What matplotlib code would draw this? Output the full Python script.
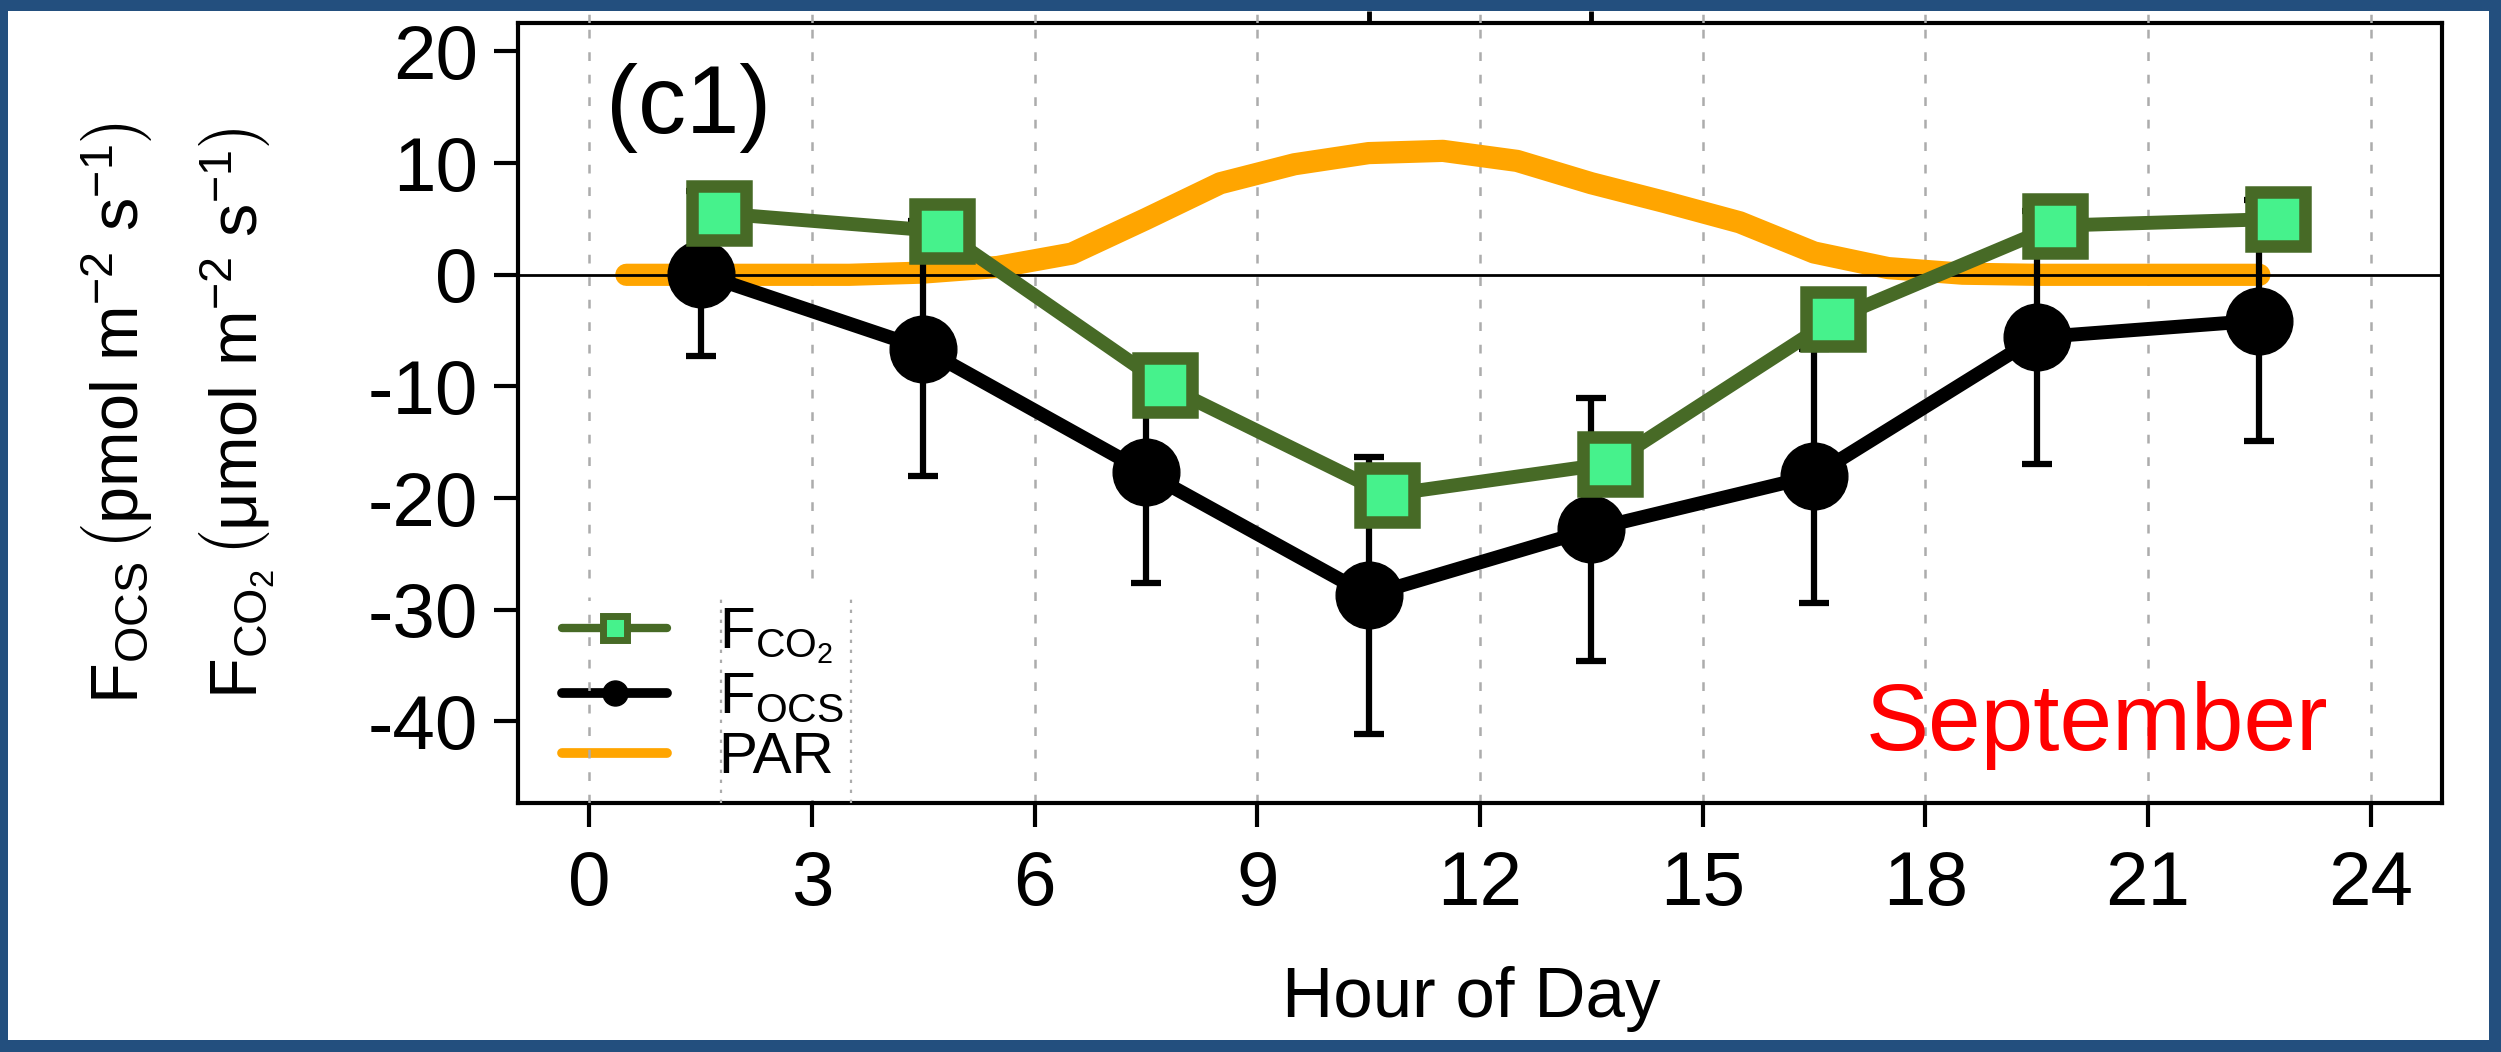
import matplotlib
matplotlib.use('Agg')
import matplotlib.pyplot as plt
from matplotlib.lines import Line2D
from matplotlib.patches import Rectangle

plt.rcParams['font.family'] = ['Liberation Sans', 'DejaVu Sans']
plt.rcParams['mathtext.fontset'] = 'custom'
plt.rcParams['mathtext.rm'] = 'Liberation Sans'
plt.rcParams['mathtext.it'] = 'Liberation Sans:italic'
plt.rcParams['mathtext.bf'] = 'Liberation Sans:bold'
plt.rcParams['axes.unicode_minus'] = False

# data
hour = [1.5, 4.5, 7.5, 10.5, 13.5, 16.5, 19.5, 22.5]
co2_hour = [1.75, 4.75, 7.75, 10.75, 13.75, 16.75, 19.75, 22.75]
f_co2 = [5.5, 3.9, -9.9, -19.7, -16.9, -4.0, 4.4, 5.0]
f_ocs = [0.1, -6.6, -17.7, -28.7, -22.8, -18.0, -5.6, -4.1]
ocs_err = [7.4, 11.4, 9.9, 12.4, 11.8, 11.4, 11.3, 10.8]

par_hour = [0.5, 1.5, 2.5, 3.5, 4.5, 5.5, 6.5, 7.5, 8.5, 9.5, 10.5, 11.5,
            12.5, 13.5, 14.5, 15.5, 16.5, 17.5, 18.5, 19.5, 20.5, 21.5, 22.5]
par = [0, 0, 0, 0, 0.2, 0.7, 1.9, 5.0, 8.2, 9.9, 10.9, 11.1,
       10.2, 8.2, 6.5, 4.7, 2.0, 0.6, 0.1, 0, 0, 0, 0]

xticks = [0, 3, 6, 9, 12, 15, 18, 21, 24]
yticks = [-40, -30, -20, -10, 0, 10, 20]
upper_bar_x = [10.5, 13.5]      # bits of the panel above that show
legend_rule_x = [1.78, 3.53]

W, H = 2501, 1052
fig = plt.figure(figsize=(W/100, H/100), dpi=100, facecolor='#234f7e')
fig.add_artist(Rectangle((8/W, 12/H), (W-20)/W, (H-23)/H, transform=fig.transFigure,
                         facecolor='white', edgecolor='none', zorder=0))

gridcol = '#acacac'
gridls = (0, (3.5, 5.5))

ax = fig.add_axes([518/W, 1-803/H, (2442-518)/W, (803-23)/H])
ax.set_xlim(-0.96, 24.96)
ax.set_ylim(-47.3, 22.55)
for x in xticks:
    ax.axvline(x, color=gridcol, lw=1.8, ls=gridls, zorder=0)
ax.axhline(0, color='black', lw=2, zorder=2.5)

ax.plot(par_hour, par, color='#ffa500', lw=16, solid_capstyle='round',
        solid_joinstyle='round', zorder=2)
ax.errorbar(hour, f_ocs, yerr=ocs_err, fmt='none', ecolor='black', elinewidth=4.5,
            capsize=10.5, capthick=4.5, zorder=3)
ax.plot(hour, f_ocs, color='black', lw=10, marker='o', ms=48, zorder=3.5)
ax.plot(co2_hour, f_co2, color='#476a26', lw=10, marker='s', ms=39, mfc='#46f28c',
        mec='#476a26', mew=9, zorder=4)

ax.set_xticks(xticks)
ax.set_yticks(yticks)
ax.tick_params(direction='out', length=17, width=3, labelsize=55)
ax.tick_params(axis='x', pad=17)
ax.tick_params(axis='y', pad=12)
for s in ax.spines.values():
    s.set_linewidth(3)

ax.text(0.0457, 0.859, '(c1)', transform=ax.transAxes, fontsize=69,
        ha='left', va='baseline')
ax.text(0.9407, 0.068, 'September', transform=ax.transAxes, fontsize=68,
        color='#ff0000', ha='right', va='baseline')

h_co2 = Line2D([], [], color='#476a26', lw=6, marker='s', ms=17, mfc='#46f28c',
               mec='#476a26', mew=5, solid_capstyle='round')
h_ocs = Line2D([], [], color='black', lw=7, marker='o', ms=18, solid_capstyle='round')
h_par = Line2D([], [], color='#ffa500', lw=7, solid_capstyle='round')
leg = ax.legend([h_co2, h_ocs, h_par],
                [r'F$_{\mathrm{CO_2}}$', r'F$_{\mathrm{OCS}}$', 'PAR'],
                loc='lower left', bbox_to_anchor=(0.0154, 0.004), fontsize=42,
                frameon=True, facecolor='white', edgecolor='none', framealpha=1,
                fancybox=False, handlelength=1.8, handletextpad=0.88,
                labelspacing=0.1, borderpad=0.25, borderaxespad=0, numpoints=1)
leg.set_zorder(5)
ax.axvline(0, ymin=0, ymax=0.264, color=gridcol, lw=1.8, ls=gridls, zorder=6)
for x in legend_rule_x:
    ax.axvline(x, ymin=0, ymax=0.264, color=gridcol, lw=1.6, ls=(0, (1.5, 3)), zorder=6)

# strip above the frame: end of the panel above
ax_top = fig.add_axes([518/W, 1-23/H, (2442-518)/W, 12/H])
ax_top.set_xlim(-0.96, 24.96)
ax_top.set_ylim(0, 1)
ax_top.axis('off')
for x in xticks:
    ax_top.axvline(x, color=gridcol, lw=1.8, ls=gridls, zorder=0)
ax_top.vlines(upper_bar_x, 0, 1, color='black', lw=3.5)

fig.text(1471/W, 1-1017/H, 'Hour of Day', fontsize=51, ha='center', va='baseline')
lab_ocs = r'F$_{\mathrm{OCS}}\,\left(\mathrm{pmol\ m^{-2}\ s^{-1}}\right)$'
lab_co2 = r'F$_{\mathrm{CO_2}}\,\left(\mathrm{\mu mol\ m^{-2}\ s^{-1}}\right)$'
fig.text(117/W, 1-413/H, lab_ocs, rotation=90, fontsize=48, ha='center', va='center')
fig.text(237/W, 1-413/H, lab_co2, rotation=90, fontsize=48, ha='center', va='center')

fig.savefig('out.png', dpi=100, facecolor=fig.get_facecolor())
